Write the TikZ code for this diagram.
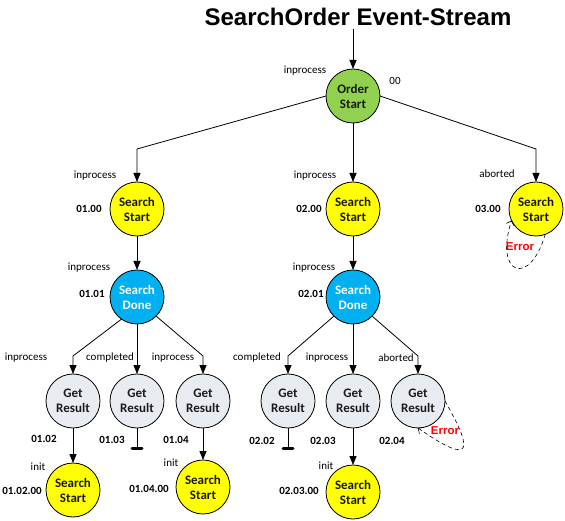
\documentclass[tikz,border=0pt]{standalone}
\usepackage{fontspec}
\setmainfont{Carlito}
\newfontfamily\titlefont{Liberation Sans}
\usetikzlibrary{arrows.meta}
\usetikzlibrary{positioning}
\definecolor{ordergreen}{HTML}{92D050}
\definecolor{startyellow}{HTML}{FFFF00}
\definecolor{doneblue}{HTML}{00B0F0}
\definecolor{resultgray}{HTML}{E8ECF1}
\definecolor{errred}{HTML}{FF0000}

\begin{document}
\begin{tikzpicture}[x=1pt, y=1pt, >={Triangle[length=9pt,width=7pt]}]
 \useasboundingbox (0,0) rectangle (565,-521);
 \tikzstyle{st} = [circle, draw, line width=0.8pt, minimum size=54pt, inner sep=0pt, outer sep=0pt, align=center, font=\fontsize{13}{15}\selectfont\bfseries, text=black!90];
 \tikzstyle{orderst} = [st, fill=ordergreen];
 \tikzstyle{startst} = [st, fill=startyellow];
 \tikzstyle{donest} = [st, fill=doneblue, text=white];
 \tikzstyle{resultst} = [st, fill=resultgray];
 \tikzstyle{lbl} = [inner sep=0pt, font=\fontsize{11}{13}\selectfont];
 \tikzstyle{num} = [inner sep=0pt, font=\fontsize{11}{13}\selectfont\bfseries];
 \tikzstyle{err} = [inner sep=0pt, text=errred, font=\titlefont\fontsize{11.5}{13}\selectfont\bfseries];

 \node (title) at (358,-17) {\titlefont\fontsize{24}{28}\selectfont\bfseries SearchOrder Event-Stream};

 \node (order) [orderst] at (353,-96) {Order\\Start};
 \node (s1) [startst] at (137,-209) {Search\\Start};
 \node (s2) [startst] at (353,-209) {Search\\Start};
 \node (s3) [startst] at (536,-209) {Search\\Start};
 \node (d1) [donest] at (137,-297) {Search\\Done};
 \node (d2) [donest] at (353,-297) {Search\\Done};
 \node (g1) [resultst] at (73,-401) {Get\\Result};
 \node (g2) [resultst] at (137,-401) {Get\\Result};
 \node (g3) [resultst] at (203,-401) {Get\\Result};
 \node (g4) [resultst] at (288,-401) {Get\\Result};
 \node (g5) [resultst] at (353,-401) {Get\\Result};
 \node (g6) [resultst] at (418,-401) {Get\\Result};
 \node (b1) [startst] at (73,-490) {Search\\Start};
 \node (b2) [startst] at (203,-487) {Search\\Start};
 \node (b3) [startst] at (353,-492) {Search\\Start};

 \node (l0) [lbl] at (305,-71) {inprocess};
 \node (n0) [lbl] at (395,-81) {00};
 \node (l1) [lbl] at (95,-176) {inprocess};
 \node (n1) [num] at (89,-209) {01.00};
 \node (l2) [lbl] at (315,-176) {inprocess};
 \node (n2) [num] at (309,-209) {02.00};
 \node (l3) [lbl] at (497,-174) {aborted};
 \node (n3) [num] at (488,-209) {03.00};
 \node (l11) [lbl] at (89,-268) {inprocess};
 \node (n11) [num] at (92,-294) {01.01};
 \node (l21) [lbl] at (314,-268) {inprocess};
 \node (n21) [num] at (311,-294) {02.01};
 \node (l12) [lbl] at (26,-358) {inprocess};
 \node (l13) [lbl] at (110,-358) {completed};
 \node (l14) [lbl] at (173,-358) {inprocess};
 \node (l22) [lbl] at (257,-358) {completed};
 \node (l23) [lbl] at (327,-358) {inprocess};
 \node (l24) [lbl] at (396,-358) {aborted};
 \node (n12) [num] at (44,-439) {01.02};
 \node (n13) [num] at (112,-440) {01.03};
 \node (n14) [num] at (176,-440) {01.04};
 \node (n22) [num] at (262,-441) {02.02};
 \node (n23) [num] at (323,-441) {02.03};
 \node (n24) [num] at (392,-441) {02.04};
 \node (i1) [lbl] at (38,-467) {init};
 \node (i2) [lbl] at (171,-463) {init};
 \node (i3) [lbl] at (326,-466) {init};
 \node (n120) [num] at (22,-491) {01.02.00};
 \node (n140) [num] at (149,-489) {01.04.00};
 \node (n230) [num] at (299,-491) {02.03.00};
 \node (err1) [err] at (520,-247) {Error};
 \node (err2) [err] at (445,-431) {Error};

 \coordinate (end13) at (137,-450);
 \coordinate (end22) at (288,-450);

 \tikzstyle{C} = [color=black, line width=0.8pt]
 \tikzstyle{E} = [-{Straight Barb[length=4pt,width=8pt]}, color=black, line width=0.6pt, dash pattern=on 4pt off 3pt]

 \draw [->, C] (order |- title.south) -- (order);
 \draw [->, C] (order.west) -- ([yshift=33pt]s1.north) -- (s1);
 \draw [->, C] (order) -- (s2);
 \draw [->, C] (order.east) -- ([yshift=33pt]s3.north) -- (s3);
 \draw [->, C] (s1) -- (d1);
 \draw [->, C] (s2) -- (d2);
 \draw [->, C] (d1.235) -- ([yshift=18pt]g1.north) -- (g1);
 \draw [->, C] (d1) -- (g2);
 \draw [->, C] (d1.315) -- ([yshift=18pt]g3.north) -- (g3);
 \draw [->, C] (d2.225) -- ([yshift=18pt]g4.north) -- (g4);
 \draw [->, C] (d2) -- (g5);
 \draw [->, C] (d2.315) -- ([yshift=18pt]g6.north) -- (g6);
 \draw [->, C] (g1) -- (b1);
 \draw [->, C] (g3) -- (b2);
 \draw [->, C] (g5) -- (b3);
 \draw [-{Bar[width=10pt,line width=3pt,round]}, C] (g2) -- (end13);
 \draw [-{Bar[width=10pt,line width=3pt,round]}, C] (g4) -- (end22);
 \draw [E] (s3.290) .. controls (530,-287) and (494,-276) .. (s3.205);
 \draw [E] (g6.east) .. controls (470,-445) and (478,-470) .. (g6.south);

\end{tikzpicture}
\end{document}
